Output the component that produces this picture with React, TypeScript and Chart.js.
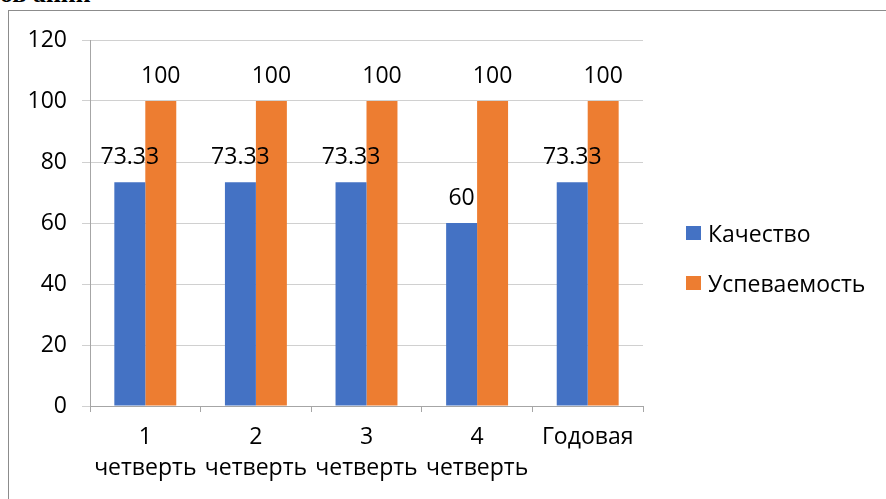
import React, { useEffect, useRef } from "react";
import { Chart, registerables } from "chart.js";

Chart.register(...registerables);

const categories: (string | string[])[] = [
  ["1", "четверть"],
  ["2", "четверть"],
  ["3", "четверть"],
  ["4", "четверть"],
  "Годовая",
];
const seriesNames = ["Качество", "Успеваемость"];
const quality = [73.33, 73.33, 73.33, 60, 73.33];
const progress = [100, 100, 100, 100, 100];
const colors = ["#4472C4", "#ED7D31"];
const yTicks = { min: 0, max: 120, step: 20 };

const FONT = "'Open Sans', 'Noto Sans', sans-serif";
const FS = 23;

const labelPlugin = {
  id: "valueLabels",
  afterDatasetsDraw(chart: any) {
    const ctx = chart.ctx;
    ctx.save();
    ctx.font = `${FS}px ${FONT}`;
    ctx.fillStyle = "#000";
    ctx.textAlign = "center";
    ctx.textBaseline = "middle";
    chart.data.datasets.forEach((ds: any, di: number) => {
      const meta = chart.getDatasetMeta(di);
      meta.data.forEach((bar: any, i: number) => {
        const v = ds.data[i];
        ctx.fillText(String(v), bar.x, bar.y - 25);
      });
    });
    ctx.restore();
  },
};

export default function App() {
  const ref = useRef<HTMLCanvasElement | null>(null);
  useEffect(() => {
    if (!ref.current) return;
    const chart = new Chart(ref.current, {
      type: "bar",
      data: {
        labels: categories as any,
        datasets: [
          { label: seriesNames[0], data: quality, backgroundColor: colors[0] },
          { label: seriesNames[1], data: progress, backgroundColor: colors[1] },
        ],
      },
      plugins: [labelPlugin],
      options: {
        responsive: false,
        animation: false,
        devicePixelRatio: 1,
        layout: { padding: { top: 29, right: 243, left: 0, bottom: 0 } },
        plugins: { legend: { display: false }, tooltip: { enabled: false } },
        datasets: { bar: { barPercentage: 1, categoryPercentage: 0.56 } },
        scales: {
          x: {
            grid: {
              display: true,
              drawOnChartArea: false,
              drawTicks: true,
              tickLength: 6,
              offset: true,
              color: "#a6a6a6",
            },
            border: { display: true, color: "#a6a6a6" },
            ticks: {
              color: "#000",
              font: { family: FONT, size: FS, lineHeight: 1.35 },
              padding: 10,
              maxRotation: 0,
              autoSkip: false,
            },
            afterFit(scale: any) {
              scale.height = 93;
            },
          },
          y: {
            min: yTicks.min,
            max: yTicks.max,
            ticks: {
              stepSize: yTicks.step,
              color: "#000",
              font: { family: FONT, size: FS },
              padding: 15,
            },
            grid: { color: "#d0d0d0", tickLength: 8, drawTicks: true },
            border: { display: true, color: "#a6a6a6" },
            afterFit(scale: any) {
              scale.width = 81;
            },
          },
        },
      },
    });
    return () => chart.destroy();
  }, []);

  const legendItem = (i: number, top: number) => (
    <div
      key={i}
      style={{
        position: "absolute",
        left: 686,
        top,
        height: 30,
        display: "flex",
        alignItems: "center",
        fontFamily: FONT,
        fontSize: FS,
        color: "#000",
      }}
    >
      <span
        style={{
          display: "inline-block",
          width: 15,
          height: 14,
          background: colors[i],
          marginRight: 7,
        }}
      />
      <span>{seriesNames[i]}</span>
    </div>
  );

  return (
    <div>
      <div
        style={{
          position: "absolute",
          left: 0,
          top: -18,
          height: 24,
          lineHeight: "24px",
          fontFamily: "'Liberation Serif', 'DejaVu Serif', serif",
          fontWeight: "bold",
          fontSize: 26,
          color: "#000",
          whiteSpace: "nowrap",
        }}
      >
        ов ании
      </div>
      <div
        style={{
          position: "absolute",
          left: 8,
          top: 10,
          width: 878,
          height: 489,
          borderTop: "1px solid #8c8c8c",
          borderLeft: "1px solid #8c8c8c",
          boxSizing: "border-box",
          overflow: "hidden",
          background: "#fff",
        }}
      >
        <canvas ref={ref} width={877} height={488} style={{ display: "block" }} />
      </div>
      {legendItem(0, 218)}
      {legendItem(1, 268)}
    </div>
  );
}
